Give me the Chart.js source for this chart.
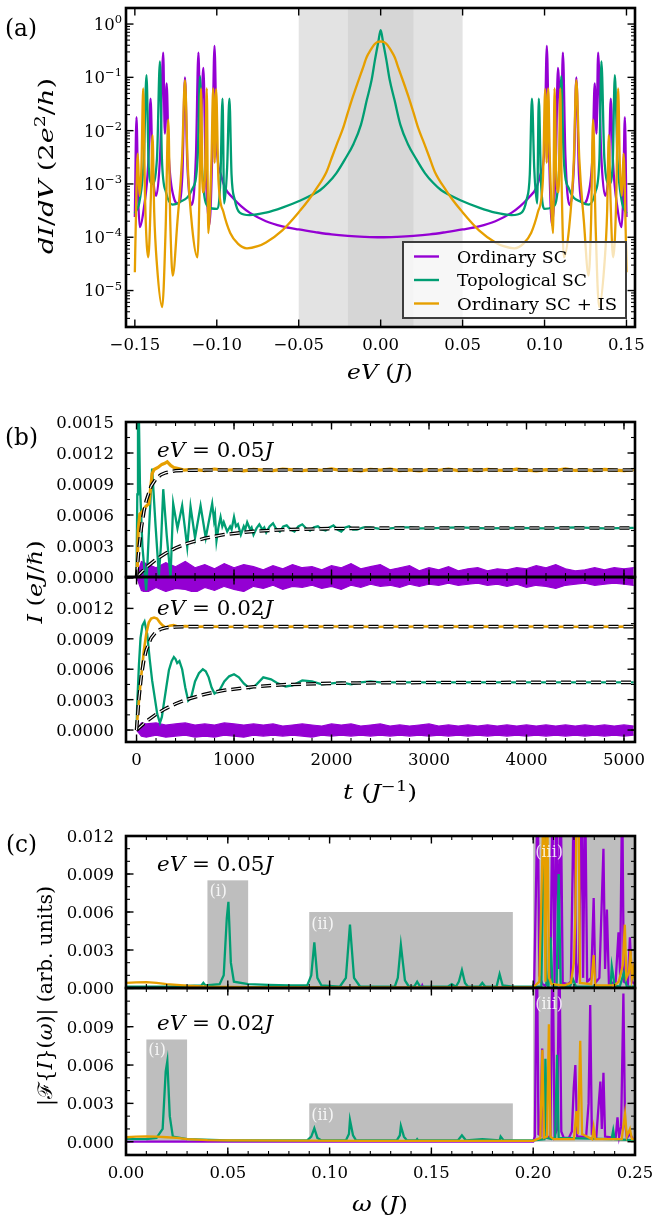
<!DOCTYPE html>
<html>
<head>
<meta charset="utf-8">
<script src="https://cdn.jsdelivr.net/npm/chart.js@4.4.1/dist/chart.umd.min.js"></script>
<style>
  html, body { margin: 0; padding: 0; background: #fff; }
  #fig { position: relative; width: 652px; height: 1218px; }
  #fig canvas { position: absolute; left: 0; top: 0; }
</style>
</head>
<body>
<div id="fig">
  <canvas id="pa" width="652" height="1218"></canvas>
  <canvas id="pb1" width="652" height="1218"></canvas>
  <canvas id="pb2" width="652" height="1218"></canvas>
  <canvas id="pc1" width="652" height="1218"></canvas>
  <canvas id="pc2" width="652" height="1218"></canvas>
</div>
<script>
// ---------- (a) differential conductance, pairs of [eV, dI/dV] ----------
const dIdV_ordinarySC = [
  [-0.1500, 2.4e-4], [-0.1490, 1.8e-2], [-0.1480, 6e-4], [-0.1470, 1.55e-4], [-0.1445, 3.5e-4],
  [-0.1418, 2.5e-3], [-0.1404, 4.0e-2], [-0.1393, 2.5e-3], [-0.1370, 6e-4], [-0.1345, 4e-3],
  [-0.1327, 2.9e-1], [-0.1317, 8.8e-3], [-0.1306, 7.7e-2], [-0.1294, 4e-3], [-0.1265, 6e-4],
  [-0.1235, 4.3e-4], [-0.1210, 1.5e-3], [-0.1194, 1.0e-1], [-0.1180, 2.5e-3], [-0.1153, 4.0e-4],
  [-0.1127, 3.5e-3], [-0.1112, 2.9e-1], [-0.1100, 8.8e-3], [-0.1082, 1.5e-1], [-0.1068, 2.0e-3],
  [-0.1045, 1.7e-4], [-0.1027, 4.5e-3], [-0.1014, 3.9e-1], [-0.1000, 5e-3], [-0.0975, 1.5e-3],
  [-0.0950, 8.5e-4], [-0.0900, 5.4e-4], [-0.0850, 3.8e-4], [-0.0800, 2.9e-4], [-0.0700, 2.0e-4],
  [-0.0600, 1.6e-4], [-0.0500, 1.4e-4], [-0.0400, 1.25e-4], [-0.0300, 1.13e-4], [-0.0200, 1.06e-4],
  [-0.0100, 1.02e-4], [0.0000, 1.0e-4],
  [0.0100, 1.02e-4], [0.0200, 1.06e-4], [0.0300, 1.13e-4], [0.0400, 1.25e-4], [0.0500, 1.4e-4],
  [0.0600, 1.6e-4], [0.0700, 2.0e-4], [0.0800, 2.9e-4], [0.0850, 3.8e-4], [0.0900, 5.4e-4],
  [0.0950, 8.5e-4], [0.0975, 1.5e-3], [0.1000, 5e-3], [0.1014, 3.9e-1], [0.1027, 4.5e-3],
  [0.1045, 1.7e-4], [0.1068, 2.0e-3], [0.1082, 1.5e-1], [0.1100, 8.8e-3], [0.1112, 2.9e-1],
  [0.1127, 3.5e-3], [0.1153, 4.0e-4], [0.1180, 2.5e-3], [0.1194, 1.0e-1], [0.1210, 1.5e-3],
  [0.1235, 4.3e-4], [0.1265, 6e-4], [0.1294, 4e-3], [0.1306, 7.7e-2], [0.1317, 8.8e-3],
  [0.1327, 2.9e-1], [0.1345, 4e-3], [0.1370, 6e-4], [0.1393, 2.5e-3], [0.1404, 4.0e-2],
  [0.1418, 2.5e-3], [0.1445, 3.5e-4], [0.1470, 1.55e-4], [0.1480, 6e-4], [0.1490, 1.8e-2],
  [0.1500, 2.4e-4]
];
const dIdV_topologicalSC = [
  [-0.1500, 2.8e-4], [-0.1470, 5e-4], [-0.1445, 3e-3], [-0.1429, 1.1e-1], [-0.1415, 2e-3],
  [-0.1395, 1.0e-3], [-0.1365, 3e-3], [-0.1347, 2.0e-1], [-0.1335, 3e-3], [-0.1310, 7e-4],
  [-0.1270, 4.1e-4], [-0.1230, 4.5e-4], [-0.1150, 8e-4], [-0.1117, 3e-3], [-0.1102, 1.05e-1],
  [-0.1090, 2e-3], [-0.1050, 3.7e-4], [-0.1000, 3.4e-4], [-0.0978, 1.2e-3], [-0.0965, 4.0e-2],
  [-0.0955, 4.3e-4], [-0.0937, 2e-3], [-0.0923, 4.0e-2], [-0.0910, 1.5e-3], [-0.0890, 5e-4],
  [-0.0860, 2.9e-4], [-0.0800, 2.6e-4], [-0.0700, 2.9e-4], [-0.0600, 3.6e-4], [-0.0490, 4.9e-4],
  [-0.0430, 6.0e-4], [-0.0370, 7.6e-4], [-0.0320, 1.05e-3], [-0.0270, 1.6e-3], [-0.0215, 3.0e-3],
  [-0.0165, 5.7e-3], [-0.0120, 1.3e-2], [-0.0085, 3.7e-2], [-0.0055, 9.0e-2], [-0.0035, 2.1e-1],
  [-0.0015, 4.5e-1], [0.0000, 7.7e-1],
  [0.0015, 4.5e-1], [0.0035, 2.1e-1], [0.0055, 9.0e-2], [0.0085, 3.7e-2], [0.0120, 1.3e-2],
  [0.0165, 5.7e-3], [0.0215, 3.0e-3], [0.0270, 1.6e-3], [0.0320, 1.05e-3], [0.0370, 7.6e-4],
  [0.0430, 6.0e-4], [0.0490, 4.9e-4], [0.0600, 3.6e-4], [0.0700, 2.9e-4], [0.0800, 2.6e-4],
  [0.0860, 2.9e-4], [0.0890, 5e-4], [0.0910, 1.5e-3], [0.0923, 4.0e-2], [0.0937, 2e-3],
  [0.0955, 4.3e-4], [0.0965, 4.0e-2], [0.0978, 1.2e-3], [0.1000, 3.4e-4], [0.1050, 3.7e-4],
  [0.1090, 2e-3], [0.1102, 1.05e-1], [0.1117, 3e-3], [0.1150, 8e-4], [0.1230, 4.5e-4],
  [0.1270, 4.1e-4], [0.1310, 7e-4], [0.1335, 3e-3], [0.1347, 2.0e-1], [0.1365, 3e-3],
  [0.1395, 1.0e-3], [0.1415, 2e-3], [0.1429, 1.1e-1], [0.1445, 3e-3], [0.1470, 5e-4],
  [0.1500, 2.8e-4]
];
const dIdV_ordinarySC_IS = [
  [-0.1500, 2.2e-5], [-0.1490, 8e-4], [-0.1482, 3.7e-3], [-0.1472, 6e-4], [-0.1460, 2e-3],
  [-0.1449, 6.2e-2], [-0.1438, 6e-4], [-0.1418, 4.2e-5], [-0.1402, 6e-4], [-0.1392, 8.2e-3],
  [-0.1382, 3e-4], [-0.1365, 3e-5], [-0.1333, 4.9e-6], [-0.1312, 1.5e-4], [-0.1296, 1.6e-2],
  [-0.1284, 2e-4], [-0.1269, 1.9e-5], [-0.1240, 2e-4], [-0.1212, 3e-3], [-0.1194, 8.9e-2],
  [-0.1178, 2.5e-3], [-0.1150, 1.5e-4], [-0.1118, 4.2e-5], [-0.1104, 1.2e-3], [-0.1096, 6.2e-2],
  [-0.1086, 7e-4], [-0.1072, 1.3e-3], [-0.1061, 6.2e-2], [-0.1052, 1.2e-4], [-0.1033, 2.5e-3],
  [-0.1022, 6.2e-2], [-0.1013, 2.5e-3], [-0.1004, 6.0e-2], [-0.0990, 1.2e-3], [-0.0960, 3e-4],
  [-0.0918, 1.2e-4], [-0.0870, 7.5e-5], [-0.0816, 6.2e-5], [-0.0750, 6.8e-5], [-0.0700, 8e-5],
  [-0.0600, 1.35e-4], [-0.0490, 3.2e-4], [-0.0440, 5.0e-4], [-0.0400, 7.5e-4], [-0.0330, 1.7e-3],
  [-0.0300, 3.0e-3], [-0.0266, 5.7e-3], [-0.0230, 1.1e-2], [-0.0200, 2.2e-2], [-0.0170, 4.3e-2],
  [-0.0140, 8e-2], [-0.0110, 1.45e-1], [-0.0085, 2.4e-1], [-0.0060, 3.3e-1], [-0.0040, 4.1e-1],
  [-0.0020, 4.6e-1], [0.0000, 4.7e-1],
  [0.0020, 4.6e-1], [0.0040, 4.1e-1], [0.0060, 3.3e-1], [0.0085, 2.4e-1], [0.0110, 1.45e-1],
  [0.0140, 8e-2], [0.0170, 4.3e-2], [0.0200, 2.2e-2], [0.0230, 1.1e-2], [0.0266, 5.7e-3],
  [0.0300, 3.0e-3], [0.0330, 1.7e-3], [0.0400, 7.5e-4], [0.0440, 5.0e-4], [0.0490, 3.2e-4],
  [0.0600, 1.35e-4], [0.0700, 8e-5], [0.0750, 6.8e-5], [0.0816, 6.2e-5], [0.0870, 7.5e-5],
  [0.0918, 1.2e-4], [0.0960, 3e-4], [0.0990, 1.2e-3], [0.1004, 6.0e-2], [0.1013, 2.5e-3],
  [0.1022, 6.2e-2], [0.1033, 2.5e-3], [0.1052, 1.2e-4], [0.1061, 6.2e-2], [0.1072, 1.3e-3],
  [0.1086, 7e-4], [0.1096, 6.2e-2], [0.1104, 1.2e-3], [0.1118, 4.2e-5], [0.1150, 1.5e-4],
  [0.1178, 2.5e-3], [0.1194, 8.9e-2], [0.1212, 3e-3], [0.1240, 2e-4], [0.1269, 1.9e-5],
  [0.1284, 2e-4], [0.1296, 1.6e-2], [0.1312, 1.5e-4], [0.1333, 4.9e-6], [0.1365, 3e-5],
  [0.1382, 3e-4], [0.1392, 8.2e-3], [0.1402, 6e-4], [0.1418, 4.2e-5], [0.1438, 6e-4],
  [0.1449, 6.2e-2], [0.1460, 2e-3], [0.1472, 6e-4], [0.1482, 3.7e-3], [0.1490, 8e-4],
  [0.1500, 2.2e-5]
];

// ---------- (b) current vs time, pairs of [t, I] ----------
const I_05_ordinarySC_IS = [
  [0, 0], [8, 1.0e-4], [17, 4.5e-4], [34, 6.1e-4], [58, 6.3e-4], [92, 6.8e-4], [126, 7.1e-4],
  [145, 8.6e-4], [160, 1.0e-3], [180, 1.04e-3], [220, 1.06e-3], [260, 1.09e-3], [290, 1.1e-3],
  [315, 1.115e-3], [350, 1.08e-3], [383, 1.06e-3], [430, 1.05e-3], [486, 1.035e-3], [550, 1.04e-3],
  [600, 1.040e-3], [700, 1.030e-3], [800, 1.045e-3], [900, 1.032e-3], [1000, 1.038e-3], [1100, 1.028e-3],
  [1200, 1.042e-3], [1300, 1.035e-3], [1400, 1.030e-3], [1500, 1.044e-3], [1600, 1.036e-3], [1700, 1.029e-3],
  [1800, 1.040e-3], [1900, 1.033e-3], [2000, 1.046e-3], [2100, 1.031e-3], [2200, 1.037e-3], [2300, 1.027e-3],
  [2400, 1.041e-3], [2500, 1.034e-3], [2600, 1.045e-3], [2700, 1.030e-3], [2800, 1.036e-3], [2900, 1.028e-3],
  [3000, 1.039e-3], [3100, 1.033e-3], [3200, 1.045e-3], [3300, 1.030e-3], [3400, 1.037e-3], [3500, 1.029e-3],
  [3600, 1.041e-3], [3700, 1.034e-3], [3800, 1.031e-3], [3900, 1.044e-3], [4000, 1.035e-3], [4100, 1.028e-3],
  [4200, 1.040e-3], [4300, 1.033e-3], [4400, 1.046e-3], [4500, 1.031e-3], [4600, 1.036e-3], [4700, 1.029e-3],
  [4800, 1.042e-3], [4900, 1.034e-3], [5000, 1.030e-3], [5100, 1.038e-3]
];
const I_05_topologicalSC = [
  [0, 0], [8, 8e-4], [15, 1.7e-3], [22, 1.7e-3], [35, 9e-4], [60, 3e-4], [99, -1.3e-4], [130, 5e-4],
  [160, 1.05e-3], [195, 5e-4], [229, 1.6e-5], [250, 3e-4], [274, 8.5e-4], [310, 4e-4], [349, 0],
  [376, 7.1e-4], [420, 4.7e-4], [468, 6.9e-4], [520, 2.9e-4], [554, 6.8e-4], [600, 3.8e-4],
  [657, 6.9e-4], [710, 3.8e-4], [776, 7.1e-4], [795, 5.5e-4], [805, 6.0e-4], [820, 3.5e-4],
  [840, 4.8e-4], [862, 5.8e-4], [880, 4.9e-4], [895, 5.3e-4], [930, 4.4e-4], [960, 4.9e-4],
  [975, 4.6e-4], [1000, 5.8e-4], [1020, 4.9e-4], [1040, 5.1e-4], [1070, 4.1e-4], [1100, 4.9e-4],
  [1115, 4.6e-4], [1135, 5.3e-4], [1165, 4.6e-4], [1180, 4.8e-4], [1200, 4.1e-4], [1230, 4.7e-4],
  [1260, 5.1e-4], [1290, 4.6e-4], [1310, 4.8e-4], [1330, 4.3e-4], [1365, 4.9e-4], [1400, 5.2e-4],
  [1430, 4.7e-4], [1470, 4.4e-4], [1505, 4.9e-4], [1540, 5.0e-4], [1580, 4.6e-4], [1620, 4.4e-4],
  [1660, 4.9e-4], [1700, 5.1e-4], [1740, 4.7e-4], [1780, 4.5e-4], [1820, 4.8e-4], [1860, 4.9e-4],
  [1900, 4.6e-4], [1940, 4.5e-4], [1980, 4.8e-4], [2020, 5.0e-4], [2060, 4.6e-4], [2100, 4.4e-4],
  [2140, 4.8e-4], [2180, 4.9e-4], [2220, 4.6e-4], [2260, 4.6e-4], [2330, 4.8e-4], [2400, 4.8e-4],
  [2500, 4.65e-4], [2600, 4.7e-4], [2700, 4.8e-4], [2800, 4.8e-4], [2900, 4.7e-4], [3000, 4.7e-4],
  [3300, 4.8e-4], [3600, 4.7e-4], [3900, 4.75e-4], [4200, 4.7e-4], [4500, 4.8e-4], [4800, 4.7e-4],
  [5100, 4.75e-4]
];
const I_05_ordinarySC_top = [
  [0, 0], [50, 1.5e-4], [100, 1.3e-4], [200, 0.9e-4], [300, 1.4e-4], [400, 1.0e-4], [500, 1.5e-4],
  [600, 0.9e-4], [700, 1.2e-4], [800, 0.8e-4], [900, 1.3e-4], [1000, 0.9e-4], [1100, 1.2e-4],
  [1200, 1.0e-4], [1300, 0.7e-4], [1400, 1.1e-4], [1500, 0.8e-4], [1600, 1.2e-4], [1700, 0.9e-4],
  [1800, 1.0e-4], [1900, 0.7e-4], [2000, 1.1e-4], [2100, 0.9e-4], [2200, 1.3e-4], [2300, 0.8e-4],
  [2400, 1.0e-4], [2500, 1.2e-4], [2600, 0.7e-4], [2700, 0.9e-4], [2800, 1.1e-4], [2900, 0.6e-4],
  [3000, 0.9e-4], [3100, 0.7e-4], [3200, 1.0e-4], [3300, 0.6e-4], [3400, 0.8e-4], [3500, 0.9e-4],
  [3600, 0.6e-4], [3700, 0.8e-4], [3800, 0.7e-4], [3900, 0.9e-4], [4000, 0.8e-4], [4100, 1.1e-4],
  [4200, 0.9e-4], [4300, 1.2e-4], [4400, 0.8e-4], [4500, 0.6e-4], [4600, 0.7e-4], [4700, 0.9e-4],
  [4800, 0.7e-4], [4900, 0.9e-4], [5000, 0.8e-4], [5100, 0.9e-4]
];
const I_05_ordinarySC_bottom = [
  [0, 0], [50, -1.3e-4], [100, -1.5e-4], [200, -1.0e-4], [300, -1.4e-4], [400, -1.1e-4], [500, -1.2e-4],
  [600, -1.5e-4], [700, -1.0e-4], [800, -1.3e-4], [900, -0.9e-4], [1000, -1.2e-4], [1100, -1.4e-4],
  [1200, -0.9e-4], [1300, -1.1e-4], [1400, -0.8e-4], [1500, -1.2e-4], [1600, -0.9e-4], [1700, -1.0e-4],
  [1800, -0.8e-4], [1900, -1.1e-4], [2000, -0.9e-4], [2100, -1.2e-4], [2200, -0.8e-4], [2300, -1.0e-4],
  [2400, -0.7e-4], [2500, -0.9e-4], [2600, -0.8e-4], [2700, -1.0e-4], [2800, -0.7e-4], [2900, -0.9e-4],
  [3000, -0.7e-4], [3100, -0.8e-4], [3200, -0.6e-4], [3300, -0.8e-4], [3400, -0.7e-4], [3500, -0.6e-4],
  [3600, -0.8e-4], [3700, -0.7e-4], [3800, -0.9e-4], [3900, -0.7e-4], [4000, -1.0e-4], [4100, -0.8e-4],
  [4200, -0.9e-4], [4300, -1.1e-4], [4400, -0.8e-4], [4500, -0.7e-4], [4600, -0.6e-4], [4700, -0.8e-4],
  [4800, -0.7e-4], [4900, -0.6e-4], [5000, -0.7e-4], [5100, -0.8e-4]
];
const I_05_fit_IS = [
  [0, 0], [25, 2.8e-4], [50, 4.8e-4], [75, 6.3e-4], [100, 7.4e-4], [150, 8.8e-4], [200, 9.5e-4],
  [250, 9.9e-4], [300, 1.01e-3], [400, 1.028e-3], [500, 1.033e-3], [700, 1.035e-3], [5100, 1.035e-3]
];
const I_05_fit_topo = [
  [0, 0], [100, 9.5e-5], [200, 1.7e-4], [300, 2.3e-4], [400, 2.8e-4], [500, 3.19e-4], [700, 3.75e-4],
  [900, 4.11e-4], [1200, 4.42e-4], [1500, 4.58e-4], [2000, 4.69e-4], [2500, 4.73e-4], [3000, 4.74e-4],
  [4000, 4.75e-4], [5100, 4.75e-4]
];

const I_02_ordinarySC_IS = [
  [0, 0], [10, 1.2e-4], [30, 3.5e-4], [50, 5.5e-4], [75, 7.8e-4], [100, 9.5e-4], [125, 1.06e-3],
  [150, 1.1e-3], [180, 1.11e-3], [210, 1.1e-3], [240, 1.06e-3], [270, 1.03e-3], [300, 1.01e-3],
  [340, 1.03e-3], [380, 1.035e-3], [430, 1.02e-3], [500, 1.025e-3], [600, 1.02e-3], [800, 1.022e-3],
  [1000, 1.019e-3], [1300, 1.021e-3], [1600, 1.02e-3], [2000, 1.022e-3], [2500, 1.019e-3],
  [3000, 1.021e-3], [3500, 1.02e-3], [4000, 1.021e-3], [4500, 1.019e-3], [5100, 1.02e-3]
];
const I_02_topologicalSC = [
  [0, 0], [7, 2.6e-4], [25, 6.5e-4], [41, 9.1e-4], [60, 1.03e-3], [82, 1.07e-3], [109, 9.5e-4],
  [135, 7e-4], [160, 4.9e-4], [190, 3e-4], [212, 1.6e-4], [240, 7e-5], [260, 1.3e-4], [280, 2.6e-4],
  [305, 4.2e-4], [332, 5.9e-4], [360, 6.8e-4], [383, 7.2e-4], [400, 7.0e-4], [417, 6.6e-4],
  [440, 6.8e-4], [468, 6.0e-4], [500, 4.2e-4], [530, 2.9e-4], [560, 3.2e-4], [600, 4.8e-4],
  [640, 5.6e-4], [680, 6.0e-4], [710, 5.8e-4], [740, 5.2e-4], [770, 4.2e-4], [800, 3.6e-4],
  [850, 3.9e-4], [900, 4.8e-4], [950, 5.3e-4], [1000, 5.5e-4], [1050, 5.2e-4], [1100, 4.6e-4],
  [1160, 4.1e-4], [1220, 4.4e-4], [1300, 5.2e-4], [1380, 5.0e-4], [1450, 4.6e-4], [1530, 4.3e-4],
  [1600, 4.4e-4], [1700, 4.9e-4], [1800, 4.8e-4], [1900, 4.5e-4], [2000, 4.6e-4], [2100, 4.7e-4],
  [2200, 4.5e-4], [2300, 4.7e-4], [2400, 4.8e-4], [2500, 4.7e-4], [2700, 4.7e-4], [3000, 4.7e-4],
  [3500, 4.7e-4], [4000, 4.7e-4], [4500, 4.7e-4], [5100, 4.7e-4]
];
const I_02_ordinarySC_top = [
  [0, 0], [50, 7e-5], [100, 6e-5], [200, 7e-5], [300, 5e-5], [400, 6e-5], [500, 7e-5], [600, 5e-5],
  [700, 6e-5], [800, 5e-5], [900, 7e-5], [1000, 6e-5], [1100, 5e-5], [1200, 6e-5], [1300, 5e-5],
  [1400, 6e-5], [1500, 4e-5], [1600, 5e-5], [1700, 6e-5], [1800, 5e-5], [1900, 4e-5], [2000, 6e-5],
  [2100, 5e-5], [2200, 6e-5], [2300, 4e-5], [2400, 5e-5], [2500, 6e-5], [2600, 4e-5], [2700, 5e-5],
  [2800, 4e-5], [2900, 5e-5], [3000, 6e-5], [3100, 4e-5], [3200, 5e-5], [3300, 4e-5], [3400, 5e-5],
  [3500, 4e-5], [3600, 5e-5], [3700, 4e-5], [3800, 5e-5], [3900, 4e-5], [4000, 5e-5], [4100, 4e-5],
  [4200, 5e-5], [4300, 4e-5], [4400, 5e-5], [4500, 4e-5], [4600, 5e-5], [4700, 4e-5], [4800, 5e-5],
  [4900, 4e-5], [5000, 5e-5], [5100, 4e-5]
];
const I_02_ordinarySC_bottom = [
  [0, 0], [50, -6e-5], [100, -7e-5], [200, -5e-5], [300, -7e-5], [400, -6e-5], [500, -5e-5], [600, -7e-5],
  [700, -6e-5], [800, -7e-5], [900, -5e-5], [1000, -6e-5], [1100, -7e-5], [1200, -5e-5], [1300, -6e-5],
  [1400, -5e-5], [1500, -6e-5], [1600, -5e-5], [1700, -6e-5], [1800, -7e-5], [1900, -5e-5], [2000, -6e-5],
  [2100, -5e-5], [2200, -6e-5], [2300, -5e-5], [2400, -6e-5], [2500, -5e-5], [2600, -6e-5], [2700, -5e-5],
  [2800, -6e-5], [2900, -5e-5], [3000, -6e-5], [3100, -5e-5], [3200, -6e-5], [3300, -5e-5], [3400, -6e-5],
  [3500, -5e-5], [3600, -6e-5], [3700, -5e-5], [3800, -6e-5], [3900, -5e-5], [4000, -6e-5], [4100, -5e-5],
  [4200, -6e-5], [4300, -5e-5], [4400, -6e-5], [4500, -5e-5], [4600, -6e-5], [4700, -5e-5], [4800, -6e-5],
  [4900, -5e-5], [5000, -6e-5], [5100, -5e-5]
];
const I_02_fit_IS = [
  [0, 0], [25, 3.2e-4], [50, 5.4e-4], [75, 6.9e-4], [100, 7.9e-4], [150, 9.1e-4], [200, 9.7e-4],
  [250, 9.96e-4], [300, 1.009e-3], [400, 1.017e-3], [500, 1.02e-3], [5100, 1.02e-3]
];
const I_02_fit_topo = [
  [0, 0], [100, 8.5e-5], [200, 1.55e-4], [300, 2.12e-4], [400, 2.59e-4], [500, 2.97e-4], [700, 3.54e-4],
  [900, 3.92e-4], [1200, 4.27e-4], [1500, 4.47e-4], [2000, 4.61e-4], [2500, 4.67e-4], [3000, 4.69e-4],
  [4000, 4.7e-4], [5100, 4.7e-4]
];

// ---------- (c) Fourier spectra, pairs of [omega, |F{I}|] ----------
const F_05_ordinarySC_IS = [
  [0, 0.0004], [0.005, 0.00045], [0.01, 0.00046], [0.015, 0.0004], [0.02, 0.0003], [0.03, 0.00018],
  [0.04, 0.0001], [0.06, 0.00007], [0.1, 0.00005], [0.15, 0.00005], [0.2, 0.00005], [0.201, 0.0002],
  [0.203, 0.0005], [0.2043, 0.009], [0.2052, 0.016], [0.206, 0.0005], [0.2068, 0.016], [0.2078, 0.0008],
  [0.209, 0.0003], [0.215, 0.0002], [0.2185, 0.0004], [0.22, 0.002], [0.2207, 0.0057], [0.2214, 0.016],
  [0.2222, 0.016], [0.223, 0.0004], [0.2285, 0.0003], [0.2297, 0.0026], [0.2305, 0.0002], [0.24, 0.0002],
  [0.242, 0.0005], [0.244, 0.0018], [0.245, 0.005], [0.2458, 0.0008], [0.247, 0.0012], [0.2478, 0.003],
  [0.2485, 0.0008], [0.2492, 0.0015], [0.25, 0.0006]
];
const F_05_topologicalSC = [
  [0, 0.0001], [0.02, 0.0001], [0.037, 0.0002], [0.038, 0.0004], [0.039, 0.0002], [0.046, 0.0003],
  [0.048, 0.001], [0.0495, 0.0055], [0.0503, 0.0068], [0.0515, 0.002], [0.053, 0.0005], [0.06, 0.0003],
  [0.07, 0.00025], [0.08, 0.0002], [0.089, 0.0002], [0.091, 0.001], [0.0925, 0.0036], [0.094, 0.0008],
  [0.096, 0.0002], [0.105, 0.0001], [0.108, 0.0008], [0.110, 0.005], [0.112, 0.0008], [0.115, 0.0001],
  [0.132, 0.0001], [0.1335, 0.0008], [0.135, 0.0034], [0.137, 0.0006], [0.139, 0.0001], [0.1415, 0.0001],
  [0.143, 0.0005], [0.1445, 0.0001], [0.158, 0.0001], [0.16, 0.0003], [0.162, 0.0001], [0.1635, 0.0005],
  [0.165, 0.0014], [0.1665, 0.0004], [0.168, 0.0001], [0.1735, 0.0001], [0.175, 0.0004], [0.1765, 0.0001],
  [0.182, 0.0001], [0.1835, 0.0011], [0.185, 0.0002], [0.19, 0.0001], [0.204, 0.0001], [0.2055, 0.015],
  [0.2065, 0.0003], [0.2075, 0.0001], [0.2085, 0.004], [0.2095, 0.0002], [0.2115, 0.0001], [0.2125, 0.009],
  [0.2135, 0.0002], [0.218, 0.0001], [0.2195, 0.0007], [0.221, 0.0001], [0.238, 0.0001], [0.2386, 0.0017],
  [0.240, 0.0002], [0.2425, 0.0001], [0.2445, 0.0012], [0.246, 0.0001], [0.25, 0.0001]
];
const F_05_ordinarySC = [
  [0, 0], [0.145, 0], [0.1455, 0.0002], [0.146, 0], [0.2, 0], [0.2005, 0.0005], [0.2015, 0.009],
  [0.2022, 0.016], [0.203, 0.001], [0.2045, 0.0003], [0.206, 0.0002], [0.2085, 0.0008], [0.2095, 0.016],
  [0.2105, 0.0004], [0.2115, 0.016], [0.2125, 0.0015], [0.2135, 0.016], [0.2145, 0.0004], [0.217, 0.0003],
  [0.2185, 0.0005], [0.2200, 0.016], [0.2212, 0.0004], [0.2225, 0.002], [0.2238, 0.016], [0.2245, 0.0008],
  [0.2255, 0.016], [0.2265, 0.0005], [0.2285, 0.0008], [0.2297, 0.0071], [0.2305, 0.0004], [0.2325, 0.0008],
  [0.2345, 0.011], [0.2353, 0.0015], [0.2362, 0.0062], [0.2372, 0.0003], [0.2405, 0.0005], [0.2419, 0.0044],
  [0.2427, 0.0010], [0.2437, 0.016], [0.2445, 0.0005], [0.2465, 0.0003], [0.2475, 0.004], [0.2485, 0.0005],
  [0.25, 0.0003]
];
const F_02_ordinarySC_IS = [
  [0, 0.00035], [0.005, 0.0004], [0.01, 0.00042], [0.015, 0.0004], [0.02, 0.00035], [0.025, 0.0003],
  [0.03, 0.0002], [0.04, 0.00012], [0.05, 0.0001], [0.08, 0.00008], [0.12, 0.00007], [0.2, 0.00007],
  [0.2035, 0.0003], [0.2045, 0.0072], [0.2053, 0.0003], [0.2068, 0.0004], [0.2077, 0.0092], [0.2085, 0.0004],
  [0.2100, 0.0002], [0.2200, 0.0002], [0.2212, 0.0024], [0.2220, 0.0006], [0.2231, 0.0079], [0.2240, 0.0006],
  [0.2290, 0.0002], [0.2297, 0.0011], [0.2305, 0.0002], [0.2435, 0.0002], [0.2445, 0.0015], [0.2451, 0.0022],
  [0.2460, 0.0004], [0.2475, 0.0010], [0.2485, 0.0002], [0.25, 0.0002]
];
const F_02_topologicalSC = [
  [0, 0.0002], [0.01, 0.0002], [0.015, 0.0003], [0.018, 0.001], [0.0195, 0.0055], [0.0203, 0.0063],
  [0.0215, 0.002], [0.023, 0.0004], [0.03, 0.0002], [0.05, 0.0001], [0.089, 0.0001], [0.091, 0.0004],
  [0.0925, 0.00105], [0.094, 0.0003], [0.096, 0.0001], [0.108, 0.0001], [0.1095, 0.0006], [0.110, 0.0017],
  [0.1115, 0.0005], [0.113, 0.0001], [0.133, 0.0001], [0.1345, 0.0005], [0.135, 0.00123], [0.1365, 0.0004],
  [0.138, 0.0001], [0.1425, 0.0001], [0.143, 0.0002], [0.1435, 0.0001], [0.163, 0.0001], [0.165, 0.0005],
  [0.167, 0.0001], [0.175, 0.0002], [0.1835, 0.0001], [0.184, 0.0004], [0.1855, 0.0001], [0.2, 0.0001],
  [0.2055, 0.0002], [0.2060, 0.0065], [0.2068, 0.0003], [0.209, 0.0002], [0.2108, 0.0003], [0.2117, 0.0068],
  [0.2125, 0.0003], [0.2385, 0.0002], [0.2393, 0.0009], [0.240, 0.0002], [0.25, 0.0001]
];
const F_02_ordinarySC = [
  [0, 0], [0.2, 0], [0.2008, 0.0004], [0.2018, 0.016], [0.2026, 0.0006], [0.2036, 0.0005], [0.2044, 0.0073],
  [0.2052, 0.0003], [0.2085, 0.0004], [0.2095, 0.016], [0.2105, 0.0005], [0.2118, 0.001], [0.2128, 0.016],
  [0.2138, 0.0008], [0.2150, 0.0003], [0.2175, 0.0003], [0.2190, 0.0008], [0.2199, 0.0042], [0.2207, 0.006],
  [0.2216, 0.0004], [0.2260, 0.0004], [0.2272, 0.003], [0.2280, 0.0107], [0.2288, 0.0006], [0.2310, 0.0004],
  [0.2322, 0.003], [0.2330, 0.0047], [0.2337, 0.001], [0.2345, 0.0054], [0.2353, 0.0004], [0.2405, 0.0003],
  [0.2414, 0.0019], [0.2422, 0.0004], [0.2432, 0.0012], [0.2443, 0.0116], [0.2451, 0.0015], [0.2460, 0.0003],
  [0.2475, 0.0006], [0.2490, 0.0002], [0.25, 0.0002]
];

// ---------- ticks and labels ----------
const aTicksX = [-0.15, -0.10, -0.05, 0, 0.05, 0.10, 0.15];
const aLabelsX = ['\u22120.15', '\u22120.10', '\u22120.05', '0.00', '0.05', '0.10', '0.15'];
const aDecades = [0, -1, -2, -3, -4, -5];
const bTicksX = [0, 1000, 2000, 3000, 4000, 5000];
const bLabelsX = ['0', '1000', '2000', '3000', '4000', '5000'];
const bTicksY = [0, 0.0003, 0.0006, 0.0009, 0.0012, 0.0015];
const bLabelsY = ['0.0000', '0.0003', '0.0006', '0.0009', '0.0012', '0.0015'];
const cTicksX = [0, 0.05, 0.10, 0.15, 0.20, 0.25];
const cLabelsX = ['0.00', '0.05', '0.10', '0.15', '0.20', '0.25'];
const cTicksY = [0, 0.003, 0.006, 0.009, 0.012];
const cLabelsY = ['0.000', '0.003', '0.006', '0.009', '0.012'];

const SERIF = '"DejaVu Serif", "Liberation Serif", serif';
const W = 652, H = 1218;
const PURPLE = '#9400d3', GREEN = '#009e73', ORANGE = '#e69f00';
const TICK_FONT = 16.5;

function stepTicks(min, max, step) {
  const out = [];
  for (let k = Math.ceil(min / step - 1e-6); k * step <= max + 1e-12; k++) out.push(k * step);
  return out;
}
function logMinor(lo, hi) {
  const out = [];
  for (let e = lo; e <= hi; e++) for (let m = 2; m <= 9; m++) out.push(m * Math.pow(10, e));
  return out;
}
function ticksWithLabels(vals, labels) {
  return vals.map((v, i) => [v, labels[i] === undefined ? null : [[labels[i], 'r']]]);
}

const panelSpecs = {
  pa: {
    area: [126, 8, 635, 327], x: [-0.1554, 0.1552], y: [2.07e-6, 2.0], yType: 'logarithmic',
    xMajor: ticksWithLabels(aTicksX, aLabelsX), xMinor: [],
    yMajor: aDecades.map(e => [Math.pow(10, e), [['10', 'r'], [e === 0 ? '0' : '\u2212' + (-e), 'sup']]]),
    yMinor: logMinor(-6, 0), yLabelRight: 122,
    boxes: [
      {x: [-0.05, 0.05], color: '#e3e3e3'},
      {x: [-0.02, 0.02], color: '#d6d6d6'}
    ],
    legend: {
      box: [403, 242, 626, 318],
      rows: [[PURPLE, 'Ordinary SC', 110], [GREEN, 'Topological SC', 130], [ORANGE, 'Ordinary SC + IS', 160]]
    },
    texts: [
      {parts: [['(a)', 'r']], x: 5, y: 27, size: 24, align: 'left', width: 32},
      {parts: [['eV', 'i'], [' (', 'r'], ['J', 'i'], [')', 'r']], x: 380, y: 372, size: 20, align: 'center', width: 66},
      {parts: [['dI', 'i'], ['/', 'r'], ['dV', 'i'], [' (2', 'r'], ['e', 'i'], ['2', 'sup'], ['/', 'r'], ['h', 'i'], [')', 'r']],
        x: 46, y: 166, size: 20, align: 'center', rotate: true, width: 176}
    ]
  },
  pb1: {
    area: [126, 422, 635, 592], x: [-108, 5113], y: [-0.000145, 0.0015], frameY: [0, 0.0015],
    xMajor: bTicksX.map(v => [v, null]), xMinor: stepTicks(0, 5100, 200),
    yMajor: ticksWithLabels(bTicksY, bLabelsY), yMinor: stepTicks(0, 0.0015, 0.00015), yLabelRight: 114,
    texts: [
      {parts: [['(b)', 'r']], x: 5, y: 436, size: 24, align: 'left', width: 33},
      {parts: [['eV', 'i'], [' = 0.05', 'r'], ['J', 'i']], x: 157, y: 449, size: 21, align: 'left', width: 116},
      {parts: [['I', 'i'], [' (', 'r'], ['eJ', 'i'], ['/', 'r'], ['\u210f', 'i'], [')', 'r']],
        x: 35, y: 582, size: 20, align: 'center', rotate: true, width: 83}
    ]
  },
  pb2: {
    area: [126, 577, 635, 742], x: [-108, 5113], y: [-0.000118, 0.00151],
    xMajor: ticksWithLabels(bTicksX, bLabelsX), xMinor: stepTicks(0, 5100, 200),
    yMajor: ticksWithLabels(bTicksY, bLabelsY.slice(0, 5)), yMinor: stepTicks(-0.00015, 0.0015, 0.00015), yLabelRight: 114,
    texts: [
      {parts: [['eV', 'i'], [' = 0.02', 'r'], ['J', 'i']], x: 157, y: 607, size: 21, align: 'left', width: 116},
      {parts: [['t', 'i'], [' (', 'r'], ['J', 'i'], ['\u22121', 'sup'], [')', 'r']], x: 380, y: 792, size: 20, align: 'center', width: 74}
    ]
  },
  pc1: {
    area: [126, 836, 635, 988], x: [0, 0.25], y: [0, 0.012],
    xMajor: cTicksX.map(v => [v, null]), xMinor: stepTicks(0, 0.25, 0.01),
    yMajor: ticksWithLabels(cTicksY, cLabelsY), yMinor: stepTicks(0, 0.012, 0.001), yLabelRight: 114,
    boxes: [
      {x: [0.04, 0.06], y: [0, 0.0085], color: '#bebebe', label: '(i)', dy: 10},
      {x: [0.09, 0.19], y: [0, 0.006], color: '#bebebe', label: '(ii)', dy: 11},
      {x: [0.20, 0.25], y: [0, 0.012], color: '#bebebe', label: '(iii)', dy: 15}
    ],
    texts: [
      {parts: [['(c)', 'r']], x: 6, y: 843, size: 24, align: 'left', width: 31},
      {parts: [['eV', 'i'], [' = 0.05', 'r'], ['J', 'i']], x: 157, y: 863, size: 21, align: 'left', width: 116},
      {parts: [['|\u2131{', 'r'], ['I', 'i'], ['}(', 'r'], ['\u03c9', 'i'], [')| (arb. units)', 'r']],
        x: 45, y: 996, size: 20, align: 'center', rotate: true, width: 220}
    ]
  },
  pc2: {
    area: [126, 988, 635, 1155], x: [0, 0.25], y: [-0.00104, 0.01203],
    xMajor: ticksWithLabels(cTicksX, cLabelsX), xMinor: stepTicks(0, 0.25, 0.01),
    yMajor: ticksWithLabels(cTicksY, cLabelsY.slice(0, 4)), yMinor: stepTicks(-0.001, 0.012, 0.001), yLabelRight: 114,
    boxes: [
      {x: [0.01, 0.03], y: [0, 0.008], color: '#bebebe', label: '(i)', dy: 10},
      {x: [0.09, 0.19], y: [0, 0.003], color: '#bebebe', label: '(ii)', dy: 11},
      {x: [0.20, 0.25], y: [0, 0.012], color: '#bebebe', label: '(iii)', dy: 15}
    ],
    texts: [
      {parts: [['eV', 'i'], [' = 0.02', 'r'], ['J', 'i']], x: 157, y: 1022, size: 21, align: 'left', width: 116},
      {parts: [['\u03c9', 'i'], [' (', 'r'], ['J', 'i'], [')', 'r']], x: 380, y: 1204, size: 20, align: 'center', width: 56}
    ]
  }
};

// ---------- text helpers ----------
function fontFor(style, size) {
  const sup = style === 'sup';
  const it = style === 'i' ? 'italic ' : '';
  return it + (sup ? size * 0.7 : size).toFixed(1) + 'px ' + SERIF;
}
function richWidth(ctx, parts, size) {
  let w = 0;
  parts.forEach(p => { ctx.font = fontFor(p[1], size); w += ctx.measureText(p[0]).width; });
  return w;
}
// draws a run of roman / italic / superscript pieces; "target" stretches it to a given width
function drawRich(ctx, parts, x, y, size, align, color, target) {
  const natural = richWidth(ctx, parts, size);
  const w = target || natural;
  const sx = w / natural;
  const start = align === 'right' ? x - w : (align === 'center' ? x - w / 2 : x);
  const base = y + size * 0.36;
  ctx.save();
  ctx.translate(start, 0);
  ctx.scale(sx, 1);
  ctx.fillStyle = color || '#000';
  ctx.textAlign = 'left';
  ctx.textBaseline = 'alphabetic';
  let cx = 0;
  parts.forEach(p => {
    ctx.font = fontFor(p[1], size);
    ctx.fillText(p[0], cx, p[1] === 'sup' ? base - size * 0.42 : base);
    cx += ctx.measureText(p[0]).width;
  });
  ctx.restore();
}

function frameOf(chart, spec) {
  const ca = chart.chartArea, ys = chart.scales.y;
  if (!spec.frameY) return {l: ca.left, r: ca.right, t: ca.top, b: ca.bottom};
  return {l: ca.left, r: ca.right, t: ys.getPixelForValue(spec.frameY[1]), b: ys.getPixelForValue(spec.frameY[0])};
}

const figureDecor = {
  id: 'figureDecor',
  beforeDatasetsDraw(chart) {
    const spec = panelSpecs[chart.canvas.id];
    if (!spec || !spec.boxes) return;
    const ctx = chart.ctx, xs = chart.scales.x, ys = chart.scales.y, f = frameOf(chart, spec);
    spec.boxes.forEach(bx => {
      const x0 = Math.max(f.l, xs.getPixelForValue(bx.x[0]));
      const x1 = Math.min(f.r, xs.getPixelForValue(bx.x[1]));
      const y0 = bx.y ? Math.min(f.b, ys.getPixelForValue(bx.y[0])) : f.b;
      const y1 = bx.y ? Math.max(f.t, ys.getPixelForValue(bx.y[1])) : f.t;
      ctx.fillStyle = bx.color;
      ctx.fillRect(x0, y1, x1 - x0, y0 - y1);
    });
  },
  afterDatasetsDraw(chart) {
    const spec = panelSpecs[chart.canvas.id];
    if (!spec) return;
    const ctx = chart.ctx, xs = chart.scales.x, ys = chart.scales.y, f = frameOf(chart, spec);
    (spec.boxes || []).forEach(bx => {
      if (!bx.label) return;
      const x0 = xs.getPixelForValue(bx.x[0]);
      const y1 = Math.max(f.t, ys.getPixelForValue(bx.y[1]));
      drawRich(ctx, [[bx.label, 'r']], x0 + 2, y1 + bx.dy, 16, 'left', 'rgba(255,255,255,0.85)');
    });
    if (spec.legend) {
      const lg = spec.legend, b = lg.box;
      ctx.save();
      ctx.fillStyle = 'rgba(255,255,255,0.72)';
      ctx.fillRect(b[0], b[1], b[2] - b[0], b[3] - b[1]);
      ctx.strokeStyle = '#3c3c3c';
      ctx.lineWidth = 2;
      ctx.strokeRect(b[0], b[1], b[2] - b[0], b[3] - b[1]);
      lg.rows.forEach((row, i) => {
        const y = b[1] + 14.5 + i * 23.5;
        ctx.strokeStyle = row[0];
        ctx.lineWidth = 2.4;
        ctx.beginPath(); ctx.moveTo(b[0] + 11, y); ctx.lineTo(b[0] + 36, y); ctx.stroke();
        drawRich(ctx, [[row[1], 'r']], b[0] + 54, y, 17, 'left', '#000', row[2]);
      });
      ctx.restore();
    }
  },
  afterDraw(chart) {
    const spec = panelSpecs[chart.canvas.id];
    if (!spec) return;
    const ctx = chart.ctx, xs = chart.scales.x, ys = chart.scales.y, f = frameOf(chart, spec);
    ctx.save();
    ctx.strokeStyle = '#000';
    ctx.lineCap = 'butt';
    const seg = (x0, y0, x1, y1) => { ctx.beginPath(); ctx.moveTo(x0, y0); ctx.lineTo(x1, y1); ctx.stroke(); };
    const tickX = (v, len) => {
      const p = xs.getPixelForValue(v);
      if (p < f.l - 0.5 || p > f.r + 0.5) return;
      seg(p, f.b, p, f.b - len); seg(p, f.t, p, f.t + len);
    };
    const tickY = (v, len) => {
      const p = ys.getPixelForValue(v);
      if (p < f.t - 0.5 || p > f.b + 0.5) return;
      seg(f.l, p, f.l + len, p); seg(f.r, p, f.r - len, p);
    };
    ctx.lineWidth = 1.1;
    spec.xMinor.forEach(v => tickX(v, 4));
    spec.yMinor.forEach(v => tickY(v, 4));
    ctx.lineWidth = 1.4;
    spec.xMajor.forEach(t => tickX(t[0], 7.5));
    spec.yMajor.forEach(t => tickY(t[0], 7.5));
    ctx.lineWidth = 2.6;
    ctx.strokeRect(f.l, f.t, f.r - f.l, f.b - f.t);

    spec.xMajor.forEach(t => {
      if (t[1]) drawRich(ctx, t[1], xs.getPixelForValue(t[0]), f.b + 17, TICK_FONT, 'center');
    });
    spec.yMajor.forEach(t => {
      if (t[1]) drawRich(ctx, t[1], spec.yLabelRight, ys.getPixelForValue(t[0]), TICK_FONT, 'right');
    });
    (spec.texts || []).forEach(tx => {
      if (tx.rotate) {
        ctx.save();
        ctx.translate(tx.x, tx.y);
        ctx.rotate(-Math.PI / 2);
        drawRich(ctx, tx.parts, 0, 0, tx.size, 'center', '#000', tx.width);
        ctx.restore();
      } else {
        drawRich(ctx, tx.parts, tx.x, tx.y, tx.size, tx.align, '#000', tx.width);
      }
    });
    ctx.restore();
  }
};
Chart.register(figureDecor);

// ---------- chart factory ----------
function line(data, color, width, extra) {
  return Object.assign({data: data, borderColor: color, backgroundColor: color, borderWidth: width,
    pointRadius: 0, fill: false, tension: 0}, extra || {});
}
function fitLines(data) {
  return [
    line(data, '#ffffff', 1.1, {borderDash: [10, 5]}),
    line(data, '#000000', 3.6, {borderDash: [10, 5]})
  ];
}
function makePanel(id, datasets) {
  const spec = panelSpecs[id];
  const a = spec.area;
  return new Chart(document.getElementById(id), {
    type: 'line',
    data: {datasets: datasets},
    options: {
      responsive: false,
      animation: false,
      events: [],
      layout: {padding: {left: a[0], top: a[1], right: W - a[2], bottom: H - a[3]}},
      plugins: {legend: {display: false}, tooltip: {enabled: false}},
      scales: {
        x: {type: 'linear', display: false, min: spec.x[0], max: spec.x[1]},
        y: {type: spec.yType || 'linear', display: false, min: spec.y[0], max: spec.y[1]}
      }
    }
  });
}

const smooth = {cubicInterpolationMode: 'monotone'};
makePanel('pa', [
  line(dIdV_ordinarySC_IS, ORANGE, 2.3, smooth),
  line(dIdV_topologicalSC, GREEN, 2.3, smooth),
  line(dIdV_ordinarySC, PURPLE, 2.3, smooth)
]);

makePanel('pb1', [
  ...fitLines(I_05_fit_IS),
  ...fitLines(I_05_fit_topo),
  line(I_05_ordinarySC_IS, ORANGE, 3.2),
  line(I_05_topologicalSC, GREEN, 2.3),
  line(I_05_ordinarySC_top, PURPLE, 1.2),
  line(I_05_ordinarySC_bottom, PURPLE, 1.2, {fill: '-1'})
]);

makePanel('pb2', [
  ...fitLines(I_02_fit_IS),
  ...fitLines(I_02_fit_topo),
  line(I_02_ordinarySC_IS, ORANGE, 2.6),
  line(I_02_topologicalSC, GREEN, 2.3),
  line(I_02_ordinarySC_top, PURPLE, 1.2),
  line(I_02_ordinarySC_bottom, PURPLE, 1.2, {fill: '-1'})
]);

makePanel('pc1', [
  line(F_05_ordinarySC_IS, ORANGE, 2.3),
  line(F_05_topologicalSC, GREEN, 2.3),
  line(F_05_ordinarySC, PURPLE, 2.3)
]);

makePanel('pc2', [
  line(F_02_ordinarySC_IS, ORANGE, 2.3),
  line(F_02_topologicalSC, GREEN, 2.3),
  line(F_02_ordinarySC, PURPLE, 2.3)
]);
</script>
</body>
</html>
